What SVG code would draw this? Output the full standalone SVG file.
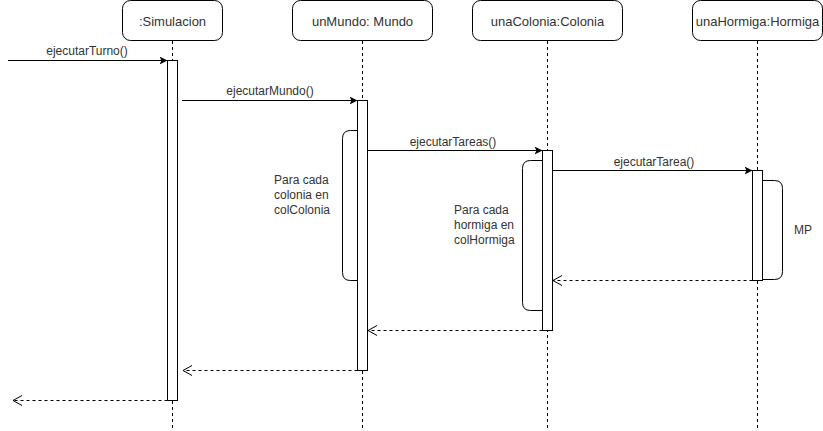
<svg xmlns="http://www.w3.org/2000/svg" width="823" height="431" viewBox="0 0 823 431">
<defs>
<marker id="solid" markerWidth="10" markerHeight="10" refX="8" refY="4" orient="auto" markerUnits="userSpaceOnUse">
<path d="M0,0 L8,4 L0,8 L2,4 Z" fill="#000"/>
</marker>
<marker id="open" markerWidth="12" markerHeight="12" refX="9" refY="5" orient="auto" markerUnits="userSpaceOnUse">
<path d="M0,0 L9,5 L0,10" fill="none" stroke="#000" stroke-width="1"/>
</marker>
</defs>
<style>
.box{fill:#fff;stroke:#000;stroke-width:1}
.life{stroke:#000;stroke-width:1;stroke-dasharray:3,3;fill:none}
.act{fill:#fff;stroke:#000;stroke-width:1}
.lbl{font-family:"Liberation Sans",Arial,sans-serif;font-size:13px;fill:#333;text-anchor:middle}
.msg{font-family:"Liberation Sans",Arial,sans-serif;font-size:12px;fill:#333;text-anchor:middle}
.note{font-family:"Liberation Sans",Arial,sans-serif;font-size:12px;fill:#333}
.call{stroke:#000;stroke-width:1;fill:none;marker-end:url(#solid)}
.ret{stroke:#000;stroke-width:1;fill:none;stroke-dasharray:3,3;marker-end:url(#open)}
.brk{fill:none;stroke:#000;stroke-width:1}
</style>
<rect width="823" height="431" fill="#fff"/>
<g id="simulacion">
<rect class="box" x="122.5" y="0.5" width="100" height="40" rx="8"/>
<text class="lbl" x="172.5" y="25.5">:Simulacion</text>
<line class="life" x1="172.5" y1="41" x2="172.5" y2="431"/>
<rect class="act" x="167.5" y="60.5" width="10" height="340"/>
</g>
<g id="unMundo">
<rect class="box" x="292.5" y="0.5" width="140" height="40" rx="8"/>
<text class="lbl" x="362.5" y="25.5">unMundo: Mundo</text>
<line class="life" x1="362.5" y1="41" x2="362.5" y2="431"/>
<rect class="act" x="357.5" y="100.5" width="10" height="270"/>
</g>
<g id="unaColonia">
<rect class="box" x="472.5" y="0.5" width="150" height="40" rx="8"/>
<text class="lbl" x="547.5" y="25.5">unaColonia:Colonia</text>
<line class="life" x1="547.5" y1="41" x2="547.5" y2="431"/>
<rect class="act" x="542.5" y="150.5" width="10" height="180"/>
</g>
<g id="unaHormiga">
<rect class="box" x="692.5" y="0.5" width="130" height="40" rx="8"/>
<text class="lbl" x="757.5" y="25.5">unaHormiga:Hormiga</text>
<line class="life" x1="757.5" y1="41" x2="757.5" y2="431"/>
<rect class="act" x="752.5" y="170.5" width="10" height="110"/>
</g>
<g id="loop-colonia">
<path class="brk" d="M357.5,130.5 L350.5,130.5 Q342.5,130.5 342.5,138.5 L342.5,272.5 Q342.5,280.5 350.5,280.5 L357.5,280.5"/>
<text class="note" x="274" y="184">Para cada</text>
<text class="note" x="274" y="199">colonia en</text>
<text class="note" x="274" y="214">colColonia</text>
</g>
<g id="loop-hormiga">
<path class="brk" d="M542.5,160.5 L530.5,160.5 Q522.5,160.5 522.5,168.5 L522.5,302.5 Q522.5,310.5 530.5,310.5 L542.5,310.5"/>
<text class="note" x="454" y="214">Para cada</text>
<text class="note" x="454" y="229">hormiga en</text>
<text class="note" x="454" y="244">colHormiga</text>
</g>
<g id="mp">
<path class="brk" d="M762.5,180.5 L774.5,180.5 Q782.5,180.5 782.5,188.5 L782.5,271.5 Q782.5,279.5 774.5,279.5 L762.5,279.5"/>
<text class="note" x="794" y="234">MP</text>
</g>
<g id="connectors">
<line class="call" x1="8" y1="60.5" x2="167.5" y2="60.5"/>
<text class="msg" x="87" y="55">ejecutarTurno()</text>
<line class="call" x1="182" y1="100.5" x2="357.5" y2="100.5"/>
<text class="msg" x="270" y="95">ejecutarMundo()</text>
<line class="call" x1="367.5" y1="150.5" x2="542.5" y2="150.5"/>
<text class="msg" x="453" y="146">ejecutarTareas()</text>
<line class="call" x1="552.5" y1="170.5" x2="752.5" y2="170.5"/>
<text class="msg" x="654" y="166">ejecutarTarea()</text>
<line class="ret" x1="752.5" y1="280.5" x2="553" y2="280.5"/>
<line class="ret" x1="542.5" y1="330.5" x2="368" y2="330.5"/>
<line class="ret" x1="357.5" y1="370.5" x2="183" y2="370.5"/>
<line class="ret" x1="167.5" y1="400.5" x2="13" y2="400.5"/>
</g>
</svg>
